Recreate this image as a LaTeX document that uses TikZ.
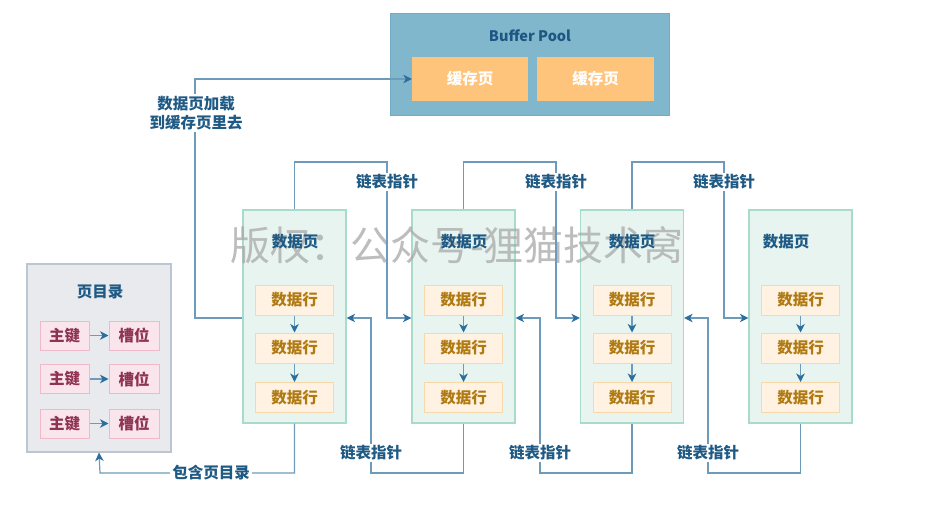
\documentclass[tikz,border=0pt]{standalone}
\usepackage{fontspec}
\setmainfont{Noto Sans CJK SC}
\usetikzlibrary{arrows.meta}
\definecolor{bpfill}{HTML}{80B7CD}
\definecolor{bpdraw}{HTML}{72ABC3}
\definecolor{bptext}{HTML}{1E5682}
\definecolor{cachefill}{HTML}{FFC47C}
\definecolor{pagefill}{HTML}{E7F4EF}
\definecolor{pagedraw}{HTML}{A9DBCB}
\definecolor{rowfill}{HTML}{FFF2E2}
\definecolor{rowdraw}{HTML}{F8D8A8}
\definecolor{rowtext}{HTML}{B07A12}
\definecolor{dirfill}{HTML}{E8EAEE}
\definecolor{dirdraw}{HTML}{BCC5D2}
\definecolor{keyfill}{HTML}{FBE5EC}
\definecolor{keydraw}{HTML}{EFB9C9}
\definecolor{keytext}{HTML}{8E3352}
\definecolor{linkline}{HTML}{6E9BBA}
\definecolor{arrowc}{HTML}{2C6E9E}
\definecolor{labeltext}{HTML}{1F5A85}
\definecolor{wmark}{HTML}{A8A8A8}
\begin{document}
\begin{tikzpicture}[x=1pt,y=-1pt,
  txt/.style={font=\fontsize{15.5}{18.5}\selectfont\bfseries},
  bpbox/.style={draw=bpdraw,fill=bpfill,line width=1pt,inner sep=0pt},
  cachebox/.style={fill=cachefill,minimum width=116pt,minimum height=44pt,inner sep=0pt,text=white,txt},
  pagebox/.style={draw=pagedraw,fill=pagefill,line width=1.2pt,minimum width=103pt,minimum height=213pt,inner sep=0pt},
  rowbox/.style={draw=rowdraw,fill=rowfill,line width=1pt,minimum width=78pt,minimum height=30pt,inner sep=0pt,text=rowtext,txt},
  dirbox/.style={draw=dirdraw,fill=dirfill,line width=1.2pt,minimum width=144pt,minimum height=188pt,inner sep=0pt},
  keybox/.style={draw=keydraw,fill=keyfill,line width=1pt,minimum width=49pt,minimum height=29pt,inner sep=0pt,text=keytext,txt},
  title/.style={text=labeltext,txt,inner sep=0pt},
  lbl/.style={text=labeltext,txt,fill=white,inner sep=2pt,align=center},
  link/.style={draw=linkline,line width=1.2pt},
  tip/.style={-{Stealth[length=8.5pt,width=8.5pt,inset=2.5pt,color=arrowc]}},
]
\useasboundingbox (0,0) rectangle (926,513);
\fill[white] (0,0) rectangle (926,513);

% Buffer pool
\node[bpbox,minimum width=279pt,minimum height=102pt] (bp) at (529.5,65) {};
\node[text=bptext,font=\fontsize{14.5}{17}\selectfont\bfseries,inner sep=0pt] (bpt) at (530,36) {Buffer Pool};
\node[cachebox] (c1) at (470,79) {缓存页};
\node[cachebox,minimum width=117pt] (c2) at (595.5,79) {缓存页};

% data pages
\foreach \i/\x in {1/294.5,2/463.5,3/632,4/800.5}{
  \node[pagebox] (p\i) at (\x,316.5) {};
  \node[rowbox] (r\i a) at (\x,300) {数据行};
  \node[rowbox] (r\i b) at (\x,348) {数据行};
  \node[rowbox] (r\i c) at (\x,397.5) {数据行};
  \draw[link,tip] (r\i a.south) -- (r\i b.north);
  \draw[link,tip] (r\i b.south) -- (r\i c.north);
}

% watermark (under the page titles)
\node[text=wmark,opacity=0.75,font=\fontsize{40}{42}\selectfont,inner sep=0pt] (wm) at (457,245) {版权：公众号-狸猫技术窝};

\node[title] (t1) at (295,242) {数据页};
\node[title] (t2) at (464,242) {数据页};
\node[title] (t3) at (632,242) {数据页};
\node[title] (t4) at (786,242) {数据页};

% page directory
\node[dirbox] (dir) at (99,358) {};
\node[title] (dirt) at (100,292) {页目录};
\foreach \j/\y in {1/335.5,2/379,3/423.5}{
  \node[keybox] (k\j) at (64.5,\y) {主键};
  \node[keybox,minimum width=50pt] (s\j) at (134,\y) {槽位};
  \draw[link,tip] (k\j.east) -- (s\j.west);
}

% helper coordinates
\coordinate (ymid) at (0,318);
\coordinate (ytop) at (0,162);
\coordinate (ybot) at (0,473);

% load into buffer pool
\coordinate (ld) at (195,318);
\draw[link,tip] (p1.west |- ymid) -- (ld) -- (ld |- c1.west) -- (c1.west);
\node[lbl] (ldl) at (196,113) {数据页加载\\到缓存页里去};

% linked list pointers
\foreach \a/\b/\xt/\xb in {1/2/387/371,2/3/556/540,3/4/724/708}{
  \coordinate (tu\a) at (\xt,162);
  \coordinate (bu\a) at (\xb,473);
  \draw[link,tip] (p\a.north) -- (p\a.north |- ytop) -- (tu\a) -- (tu\a |- ymid) -- (p\b.west |- ymid);
  \draw[link,tip] (p\b.south) -- (p\b.south |- ybot) -- (bu\a) -- (bu\a |- ymid) -- (p\a.east |- ymid);
  \node[lbl] (tl\a) at (\xt,182) {链表指针};
  \node[lbl] (bl\a) at (\xb,453) {链表指针};
}

% contains page directory
\coordinate (dc) at (100,473);
\draw[link,tip] (p1.south) -- (p1.south |- ybot) -- (dc) -- (dir.south);
\node[lbl] (dcl) at (211,473) {包含页目录};
\end{tikzpicture}
\end{document}
